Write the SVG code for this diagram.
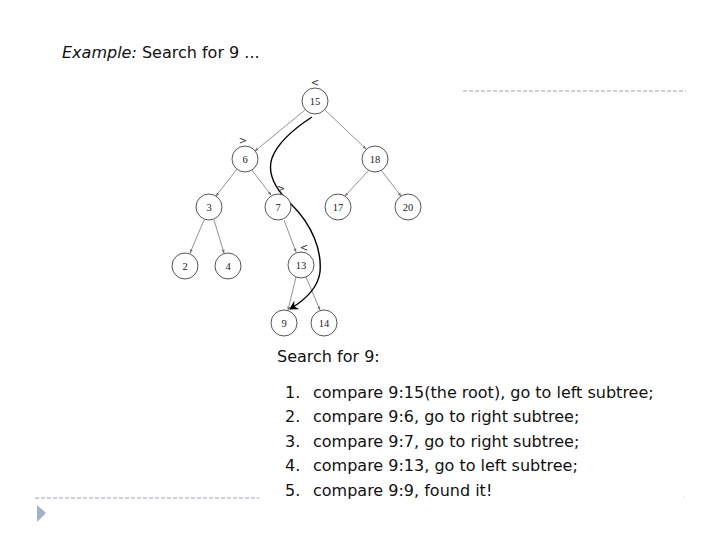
<svg xmlns="http://www.w3.org/2000/svg" width="720" height="540" viewBox="0 0 720 540">
<style>
.n circle{fill:#fff;stroke:#444;stroke-width:0.9}
.n text{font-family:"Liberation Serif",serif;font-size:10.5px;fill:#222;text-anchor:middle}
.e line{stroke:#777;stroke-width:0.8}
.lbl{font-family:"DejaVu Sans",sans-serif;font-size:10px;fill:#333;text-anchor:middle}
.t{font-family:"DejaVu Sans",sans-serif;font-size:16px;fill:#111}
.dash{stroke:#9aa4b4;stroke-width:1;stroke-dasharray:4 2}
</style>
<defs>
<marker id="ah" markerWidth="4" markerHeight="4" refX="3.5" refY="2" orient="auto" markerUnits="userSpaceOnUse"><path d="M0,0.5 L4,2 L0,3.5 z" fill="#777"/></marker>
<marker id="bh" markerWidth="10" markerHeight="10" refX="8" refY="5" orient="auto" markerUnits="userSpaceOnUse"><path d="M0,0 L9,5 L0,10 L3,5 z" fill="#000"/></marker>
</defs>
<rect width="720" height="540" fill="#fff"/>
<text class="t" x="62" y="58" font-size="16.6"><tspan font-style="italic">Example:</tspan> Search for 9 ...</text>
<line class="dash" x1="463" y1="91" x2="686" y2="91"/>
<line class="dash" x1="35" y1="498" x2="259" y2="498"/>
<path d="M37,505 L46,513 L37,522 z" fill="#9fb0c8"/>
<g id="edges" class="e">
<line x1="305" y1="110" x2="255" y2="151" marker-end="url(#ah)"/>
<line x1="325" y1="110" x2="366" y2="149" marker-end="url(#ah)"/>
<line x1="237" y1="169" x2="216" y2="196" marker-end="url(#ah)"/>
<line x1="251" y1="169" x2="271" y2="195" marker-end="url(#ah)"/>
<line x1="369" y1="170" x2="345" y2="196" marker-end="url(#ah)"/>
<line x1="381" y1="170" x2="401" y2="196" marker-end="url(#ah)"/>
<line x1="204" y1="220" x2="190" y2="253" marker-end="url(#ah)"/>
<line x1="214" y1="220" x2="224" y2="253" marker-end="url(#ah)"/>
<line x1="284" y1="220" x2="296" y2="252" marker-end="url(#ah)"/>
<line x1="296" y1="277" x2="288" y2="310" marker-end="url(#ah)"/>
<line x1="306" y1="277" x2="320" y2="310" marker-end="url(#ah)"/>
<path d="M312,117 C295,128 278,142 272,158 C266,176 278,192 292,205 C312,225 322,250 320,272 C318,288 305,300 290,309" fill="none" stroke="#000" stroke-width="1.4" marker-end="url(#bh)"/>
</g>
<text class="lbl" x="315" y="86">&lt;</text>
<text class="lbl" x="243" y="144">&gt;</text>
<text class="lbl" x="281" y="192">&gt;</text>
<text class="lbl" x="304" y="251">&lt;</text>
<g id="n15" class="n"><circle cx="315" cy="101" r="13"/><text x="315" y="105">15</text></g>
<g id="n6" class="n"><circle cx="245" cy="159" r="13"/><text x="245" y="163">6</text></g>
<g id="n18" class="n"><circle cx="375" cy="159" r="13"/><text x="375" y="163">18</text></g>
<g id="n3" class="n"><circle cx="209" cy="207" r="13"/><text x="209" y="211">3</text></g>
<g id="n7" class="n"><circle cx="278" cy="207" r="13"/><text x="278" y="211">7</text></g>
<g id="n17" class="n"><circle cx="338" cy="207" r="13"/><text x="338" y="211">17</text></g>
<g id="n20" class="n"><circle cx="408" cy="207" r="13"/><text x="408" y="211">20</text></g>
<g id="n2" class="n"><circle cx="185" cy="266" r="13"/><text x="185" y="270">2</text></g>
<g id="n4" class="n"><circle cx="228" cy="266" r="13"/><text x="228" y="270">4</text></g>
<g id="n13" class="n"><circle cx="301" cy="265" r="13"/><text x="301" y="269">13</text></g>
<g id="n9" class="n"><circle cx="284" cy="323" r="13"/><text x="284" y="327">9</text></g>
<g id="n14" class="n"><circle cx="324" cy="323" r="13"/><text x="324" y="327">14</text></g>
<text class="t" x="277" y="362">Search for 9:</text>
<text class="t" x="285" y="398">1.</text><text class="t" x="313" y="398">compare 9:15(the root), go to left subtree;</text>
<text class="t" x="285" y="422">2.</text><text class="t" x="313" y="422">compare 9:6, go to right subtree;</text>
<text class="t" x="285" y="447">3.</text><text class="t" x="313" y="447">compare 9:7, go to right subtree;</text>
<text class="t" x="285" y="471">4.</text><text class="t" x="313" y="471">compare 9:13, go to left subtree;</text>
<text class="t" x="285" y="496">5.</text><text class="t" x="313" y="496">compare 9:9, found it!</text>
<circle cx="684" cy="497" r="0.6" fill="#bbb"/>
</svg>
